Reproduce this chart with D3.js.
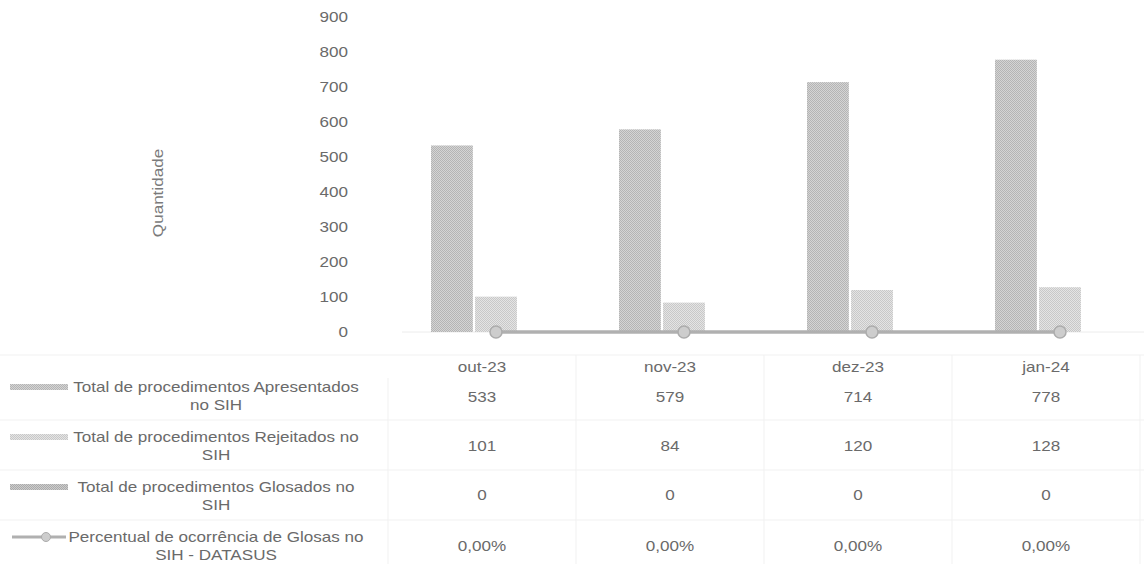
<!DOCTYPE html>
<html><head><meta charset="utf-8">
<script src="https://cdn.jsdelivr.net/npm/d3@7"></script>
<style>body{margin:0;background:#fff}svg{display:block}</style>
</head><body>
<svg id="c" width="1144" height="564"></svg>
<script>
const categories = ["out-23","nov-23","dez-23","jan-24"];
const seriesNames = [
  ["Total de procedimentos Apresentados","no SIH"],
  ["Total de procedimentos Rejeitados no","SIH"],
  ["Total de procedimentos Glosados no","SIH"],
  ["Percentual de ocorrência de Glosas no","SIH - DATASUS"]
];
const apresentados = [533,579,714,778];
const rejeitados = [101,84,120,128];
const glosados = [0,0,0,0];
const percentual = [0,0,0,0];
const percentLabels = ["0,00%","0,00%","0,00%","0,00%"];
const yTicks = [0,100,200,300,400,500,600,700,800,900];
const yTitle = "Quantidade";

const svg = d3.select("#c");
const FONT = "Liberation Sans, Arial, sans-serif";
const SX = 1.22;
const TXT = "#6a6a6a";
const defs = svg.append("defs");
function checker(id, a, b){
  const p = defs.append("pattern").attr("id",id).attr("width",2).attr("height",2).attr("patternUnits","userSpaceOnUse");
  p.append("rect").attr("width",2).attr("height",2).attr("fill",b);
  p.append("rect").attr("width",1).attr("height",1).attr("fill",a);
  p.append("rect").attr("x",1).attr("y",1).attr("width",1).attr("height",1).attr("fill",a);
}
checker("pA","#b4b4b4","#d4d4d4");
checker("pR","#c8c8c8","#e4e4e4");
checker("pG","#ababab","#cccccc");
const fills = ["url(#pA)","url(#pR)","url(#pG)"];

function txt(x,y,s,anchor,size,color,rot){
  return svg.append("text")
    .attr("transform",`translate(${x},${y})${rot?` rotate(${rot})`:""} scale(${SX},1)`)
    .attr("text-anchor",anchor).attr("dominant-baseline","central")
    .attr("font-family",FONT).attr("font-size",size).attr("fill",color).text(s);
}

const x0 = d3.scaleBand().domain(categories).range([402,1154]).padding(0);
const x1 = d3.scaleBand().domain([0,1,2]).range([-65,65]).paddingInner(0.05);
const y = d3.scaleLinear().domain([0,900]).range([332,17]);
const y2 = d3.scaleLinear().domain([0,1]).range([332,17]);

// y axis labels
const yAxis = d3.axisLeft(y).tickValues(yTicks).tickSize(0).tickPadding(0);
const gy = svg.append("g").attr("transform","translate(348,0)").call(yAxis);
gy.select(".domain").remove();
gy.selectAll("text").attr("font-family",FONT).attr("font-size",14).attr("fill",TXT)
  .attr("dy",null).attr("x",0).attr("dominant-baseline","central")
  .attr("transform",`scale(${SX},1)`);

txt(158,193,yTitle,"middle",14,"#7a7a7a",-90);

// baseline
svg.append("line").attr("x1",402).attr("x2",1144).attr("y1",y(0)).attr("y2",y(0)).attr("stroke","#ececec");

// bars
const series = [apresentados, rejeitados, glosados];
series.forEach((vals,si)=>{
  svg.append("g").selectAll("rect").data(vals).join("rect")
    .attr("x",(d,i)=>x0(categories[i])+x0.bandwidth()/2+x1(si))
    .attr("width",x1.bandwidth())
    .attr("y",d=>y(d)).attr("height",d=>y(0)-y(d))
    .attr("fill",fills[si]);
});

// line
const cx = c => x0(c)+x0.bandwidth()/2;
const line = d3.line().x((d,i)=>cx(categories[i])).y(d=>y2(d));
svg.append("path").datum(percentual).attr("d",line).attr("fill","none").attr("stroke","#b0b0b0").attr("stroke-width",3.5);
svg.append("g").selectAll("circle").data(percentual).join("circle")
  .attr("cx",(d,i)=>cx(categories[i])).attr("cy",d=>y2(d)).attr("r",6)
  .attr("fill","#cdcdcd").attr("stroke","#acacac").attr("stroke-width",1.5);

// table
const tcx = c => cx(c)-14;
const grid = svg.append("g").attr("stroke","#f1f1f1").attr("stroke-width",1);
[355,420,470,520].forEach(yy=>grid.append("line").attr("x1",0).attr("x2",1144).attr("y1",yy).attr("y2",yy));
categories.forEach(c=>grid.append("line").attr("x1",tcx(c)+94).attr("x2",tcx(c)+94).attr("y1",355).attr("y2",564));
grid.append("line").attr("x1",388).attr("x2",388).attr("y1",378).attr("y2",564);

categories.forEach(c=>txt(tcx(c),367,c,"middle",14,TXT));
const rowY = [397,446,495,546];
const rowVals = [apresentados.map(String), rejeitados.map(String), glosados.map(String), percentLabels];
rowVals.forEach((vals,r)=>vals.forEach((v,i)=>txt(tcx(categories[i]),rowY[r],v,"middle",14,TXT)));

// legend keys + labels
const legY = [[387,405],[437,455],[487,505],[537,555]];
seriesNames.forEach((nm,r)=>{
  txt(216,legY[r][0],nm[0],"middle",14,TXT);
  txt(216,legY[r][1],nm[1],"middle",14,TXT);
  if(r<3){
    svg.append("rect").attr("x",10).attr("y",legY[r][0]-3).attr("width",58).attr("height",6).attr("fill",fills[r]);
  } else {
    svg.append("line").attr("x1",12).attr("x2",66).attr("y1",legY[r][0]).attr("y2",legY[r][0]).attr("stroke","#b0b0b0").attr("stroke-width",3);
    svg.append("circle").attr("cx",46).attr("cy",legY[r][0]).attr("r",4.5).attr("fill","#cdcdcd").attr("stroke","#acacac");
  }
});
</script>
</body></html>
